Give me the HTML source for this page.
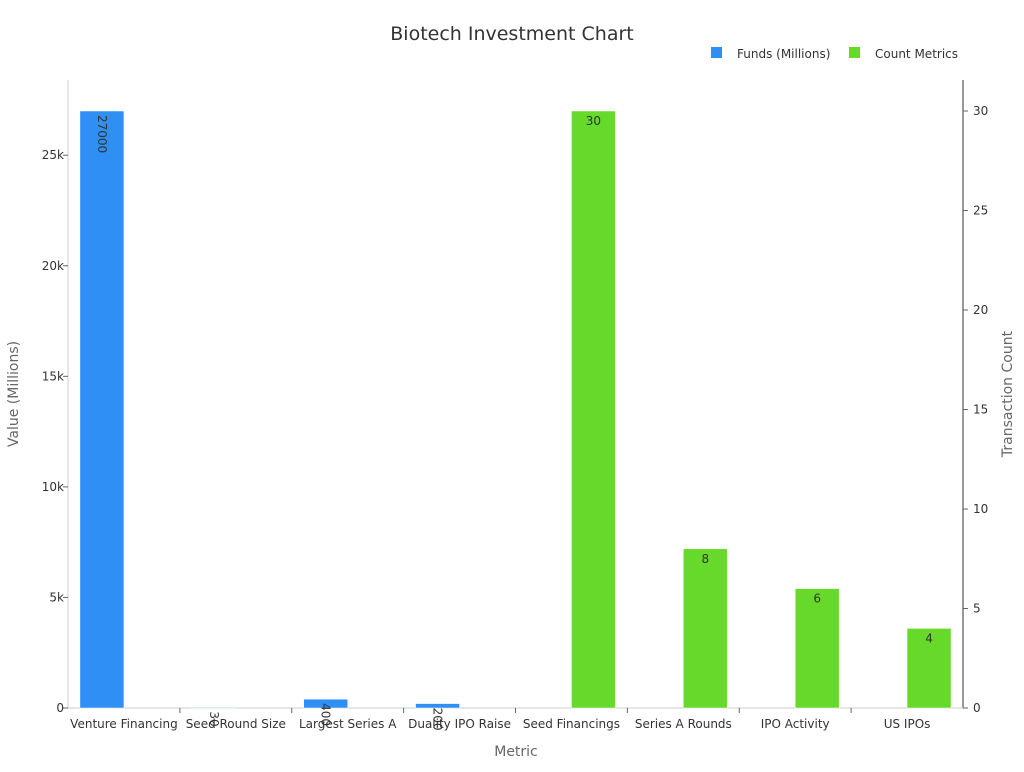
<!DOCTYPE html>
<html><head><meta charset="utf-8"><style>
body{margin:0;background:#fff;font-family:"DejaVu Sans","Liberation Sans",sans-serif;}
svg text{font-family:"DejaVu Sans","Liberation Sans",sans-serif;}
</style></head><body>
<svg id="chart" width="1024" height="768">
<text x="512" y="40" text-anchor="middle" font-size="19" fill="#333">Biotech Investment Chart</text>
<g>
<rect x="711" y="47" width="11" height="11" fill="#2f8ff5"/>
<text x="737" y="58" font-size="12" fill="#333">Funds (Millions)</text>
<rect x="849" y="47" width="11" height="11" fill="#66d92a"/>
<text x="875" y="58" font-size="12" fill="#333">Count Metrics</text>
</g>
<g id="axes"></g>
<g id="bars"></g>
<text x="516" y="756" text-anchor="middle" font-size="14" fill="#666">Metric</text>
<text transform="translate(18,394) rotate(-90)" text-anchor="middle" font-size="14" fill="#666">Value (Millions)</text>
<text transform="translate(1012,394) rotate(-90)" text-anchor="middle" font-size="14" fill="#666">Transaction Count</text>
</svg>
<script>
const categories=["Venture Financing","Seed Round Size","Largest Series A","Duality IPO Raise","Seed Financings","Series A Rounds","IPO Activity","US IPOs"];
const fundsValues=[27000,30,400,200,null,null,null,null];
const countValues=[null,null,null,null,30,8,6,4];
const leftTicks=[0,5000,10000,15000,20000,25000];
const leftTickLabels=["0","5k","10k","15k","20k","25k"];
const rightTicks=[0,5,10,15,20,25,30];
const NS="http://www.w3.org/2000/svg";
const L=68,R=963,B=708;
const yL=v=>B-v*(597/27000);
const yR=v=>B-v*(597/30);
const band=(R-L)/categories.length;
const xc=i=>L+band*(i+0.5);
function mk(t,a,p){const e=document.createElementNS(NS,t);for(const k in a)e.setAttribute(k,a[k]);p.appendChild(e);return e;}
const ax=document.getElementById('axes'),bars=document.getElementById('bars');
let e;
e=mk('line',{x1:L,y1:80,x2:L,y2:B,stroke:'#ccc'},ax);


e=mk('line',{x1:R,y1:80,x2:R,y2:B,stroke:'#333'},ax);


e=mk('line',{x1:L,y1:B,x2:R,y2:B,stroke:'#ccc'},ax);


leftTicks.forEach((v,i)=>{
 e=mk('line',{x1:L-5,y1:yL(v),x2:L,y2:yL(v),stroke:'#666'},ax);
 
 
 e=mk('text',{x:L-4,y:yL(v)+4,'text-anchor':'end','font-size':12,fill:'#333'},ax);
 e.textContent=leftTickLabels[i];
 
 
});
rightTicks.forEach(v=>{
 e=mk('line',{x1:R,y1:yR(v),x2:R+5,y2:yR(v),stroke:'#666'},ax);
 
 
 e=mk('text',{x:R+10,y:yR(v)+4,'font-size':12,fill:'#333'},ax);
 e.textContent=String(v);
 
 
});
categories.forEach((c,i)=>{
 const x=xc(i);
 if(i>0){e=mk('line',{x1:L+band*i,y1:B,x2:L+band*i,y2:B+5,stroke:'#666'},ax);
 
 }
 e=mk('text',{x:x,y:B+20,'text-anchor':'middle','font-size':12,fill:'#333'},ax);
 e.textContent=c;
 
 
 const f=fundsValues[i];
 if(f!=null){
  const y=yL(f);
  e=mk('rect',{x:x-44,y:y,width:44,height:B-y,fill:'#2f8ff5',stroke:'#fff','stroke-width':0.5},bars);
  
  
  e=mk('text',{transform:`translate(${x-26},${y+4}) rotate(90)`,'font-size':12,fill:'#333'},bars);
  e.textContent=String(f);
  
  
 }
 const cv=countValues[i];
 if(cv!=null){
  const y=yR(cv);
  e=mk('rect',{x:x,y:y,width:44,height:B-y,fill:'#66d92a',stroke:'#fff','stroke-width':0.5},bars);
  
  
  e=mk('text',{x:x+22,y:y+14,'text-anchor':'middle','font-size':12,fill:'#333'},bars);
  e.textContent=String(cv);
  
  
 }
});
</script>
</body></html>
